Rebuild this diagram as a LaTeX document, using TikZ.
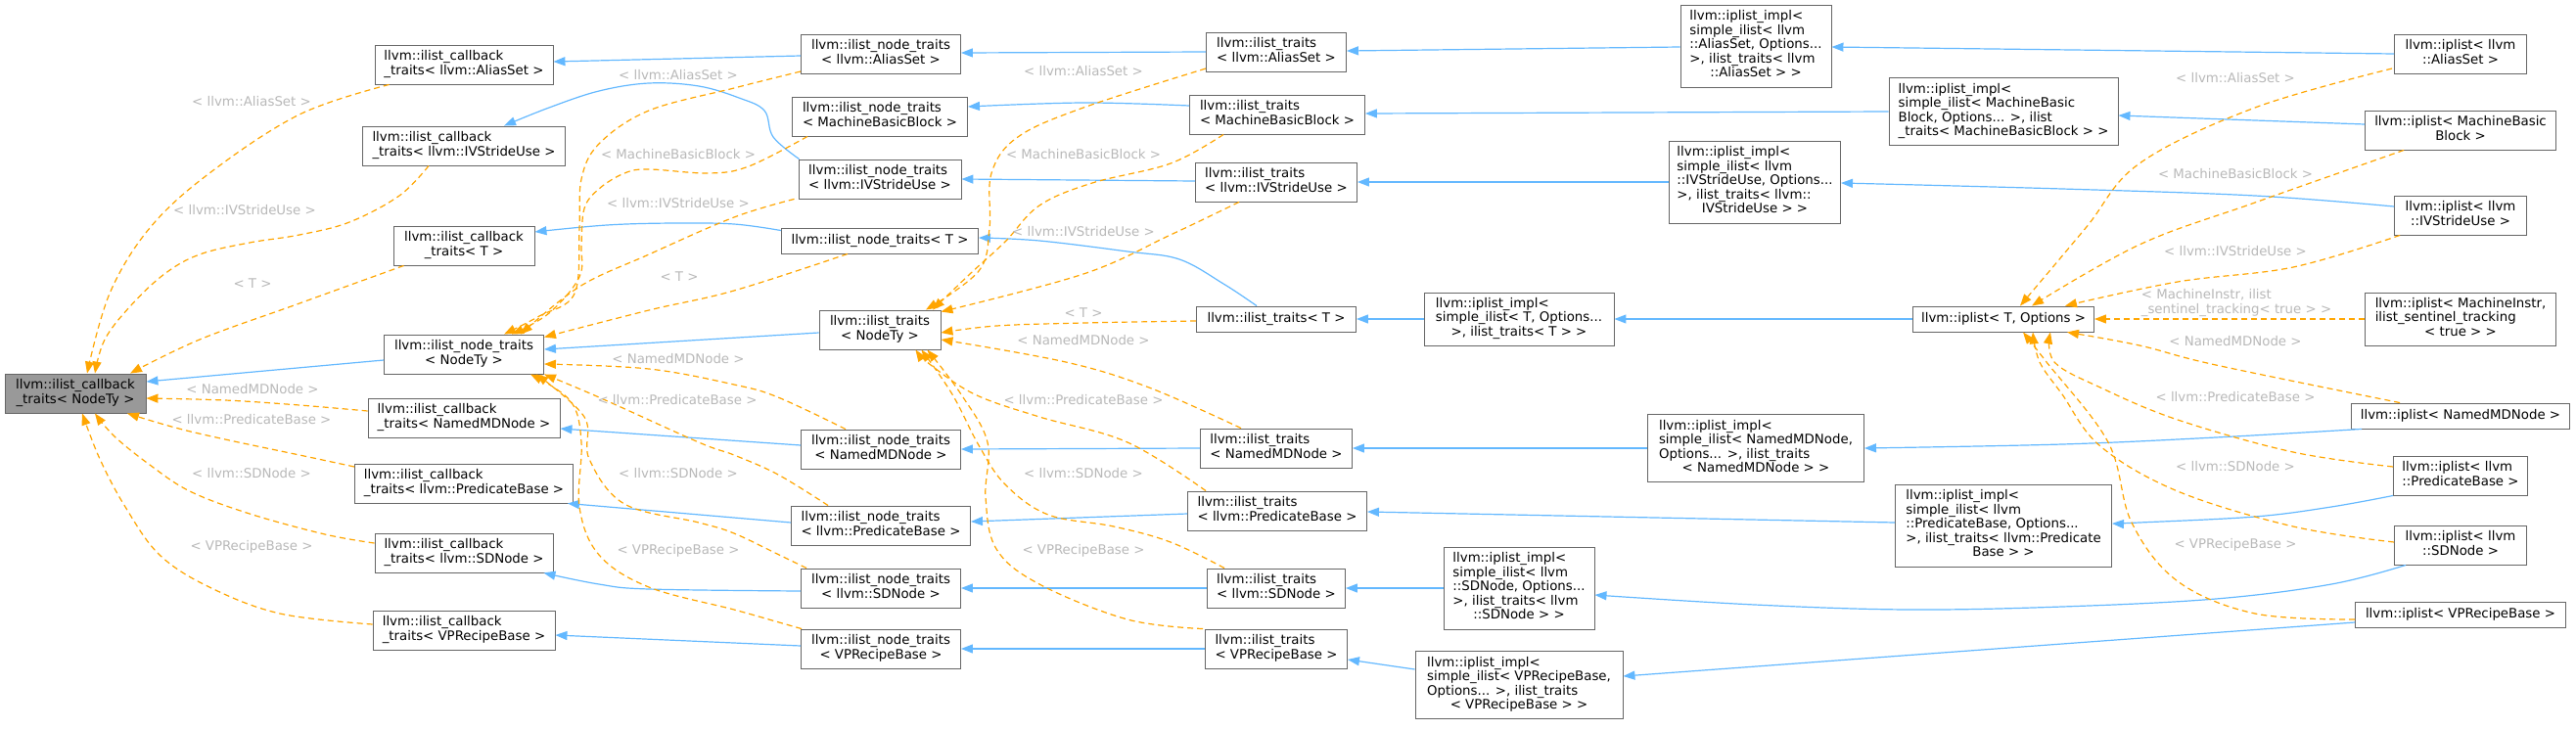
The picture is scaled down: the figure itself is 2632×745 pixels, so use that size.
\documentclass[tikz,border=0pt]{standalone}
\usepackage{fontspec}
\setmainfont{DejaVu Sans}
\usetikzlibrary{arrows.meta}
\definecolor{boxgray}{HTML}{666666}
\definecolor{grayfill}{HTML}{999999}
\definecolor{inhblue}{HTML}{63B8FF}
\definecolor{tplorange}{HTML}{FFA500}
\definecolor{lblgray}{HTML}{B8B8B8}
\newcommand\nodefont{\fontsize{13.33}{14.5}\selectfont}
\newcommand\dl[2]{\begin{tabular}{@{}l@{}}#1\\\multicolumn{1}{@{}c@{}}{#2}\end{tabular}}
\tikzset{
  box/.style={draw=boxgray, line width=0.9pt, fill=white, inner sep=0pt, font=\nodefont},
  lnA/.style={minimum height=26},
  lnB/.style={minimum height=40},
  lnC/.style={minimum height=54},
  lnD/.style={minimum height=69},
  lnE/.style={minimum height=84},
  inh/.style={draw=inhblue, line width=1.2pt, -{Triangle[length=12pt,width=9pt]}},
  tpl/.style={draw=tplorange, line width=1.2pt, dash pattern=on 6pt off 4pt, -{Triangle[length=12pt,width=9pt]}},
  lbl/.style={text=lblgray, font=\nodefont, inner sep=0pt},
}
\begin{document}
\begin{tikzpicture}[x=1pt,y=-1pt]
\useasboundingbox (0,0) rectangle (2632,745);
% ---------- nodes ----------
\node[box, fill=grayfill, lnB, minimum width=144] (nZero) at (77,402) {\dl{llvm::ilist\_callback}{\_traits< NodeTy >}};
\node[box, lnB, minimum width=182] (cAS) at (474,66) {\dl{llvm::ilist\_callback}{\_traits< llvm::AliasSet >}};
\node[box, lnB, minimum width=207] (cIV) at (474,149) {\dl{llvm::ilist\_callback}{\_traits< llvm::IVStrideUse >}};
\node[box, lnB, minimum width=144] (cT) at (474,251) {\dl{llvm::ilist\_callback}{\_traits< T >}};
\node[box, lnB, minimum width=163] (ntNodeTy) at (474,362) {\dl{llvm::ilist\_node\_traits}{< NodeTy >}};
\node[box, lnB, minimum width=196] (cMD) at (474,427) {\dl{llvm::ilist\_callback}{\_traits< NamedMDNode >}};
\node[box, lnB, minimum width=223] (cPB) at (474,494) {\dl{llvm::ilist\_callback}{\_traits< llvm::PredicateBase >}};
\node[box, lnB, minimum width=182] (cSD) at (474,565) {\dl{llvm::ilist\_callback}{\_traits< llvm::SDNode >}};
\node[box, lnB, minimum width=186] (cVP) at (474,644) {\dl{llvm::ilist\_callback}{\_traits< VPRecipeBase >}};

\node[box, lnB, minimum width=163] (ntAS) at (900,55) {\dl{llvm::ilist\_node\_traits}{< llvm::AliasSet >}};
\node[box, lnB, minimum width=179] (ntMBB) at (899,119) {\dl{llvm::ilist\_node\_traits}{< MachineBasicBlock >}};
\node[box, lnB, minimum width=166] (ntIV) at (899,183) {\dl{llvm::ilist\_node\_traits}{< llvm::IVStrideUse >}};
\node[box, lnA, minimum width=201] (ntT) at (899,246) {llvm::ilist\_node\_traits< T >};
\node[box, lnB, minimum width=124] (tNodeTy) at (899,337) {\dl{llvm::ilist\_traits}{< NodeTy >}};
\node[box, lnB, minimum width=163] (ntMD) at (900,459) {\dl{llvm::ilist\_node\_traits}{< NamedMDNode >}};
\node[box, lnB, minimum width=183] (ntPB) at (900,537) {\dl{llvm::ilist\_node\_traits}{< llvm::PredicateBase >}};
\node[box, lnB, minimum width=163] (ntSD) at (900,601) {\dl{llvm::ilist\_node\_traits}{< llvm::SDNode >}};
\node[box, lnB, minimum width=163] (ntVP) at (900,663) {\dl{llvm::ilist\_node\_traits}{< VPRecipeBase >}};

\node[box, lnB, minimum width=143] (tAS) at (1304,53) {\dl{llvm::ilist\_traits}{< llvm::AliasSet >}};
\node[box, lnB, minimum width=179] (tMBB) at (1305,117) {\dl{llvm::ilist\_traits}{< MachineBasicBlock >}};
\node[box, lnB, minimum width=165] (tIV) at (1304,186) {\dl{llvm::ilist\_traits}{< llvm::IVStrideUse >}};
\node[box, lnA, minimum width=163] (tT) at (1304,326) {llvm::ilist\_traits< T >};
\node[box, lnB, minimum width=155] (tMD) at (1304,458) {\dl{llvm::ilist\_traits}{< NamedMDNode >}};
\node[box, lnB, minimum width=183] (tPB) at (1305,522) {\dl{llvm::ilist\_traits}{< llvm::PredicateBase >}};
\node[box, lnB, minimum width=141] (tSD) at (1304,601) {\dl{llvm::ilist\_traits}{< llvm::SDNode >}};
\node[box, lnB, minimum width=145] (tVP) at (1304,663) {\dl{llvm::ilist\_traits}{< VPRecipeBase >}};

\node[box, lnE, minimum width=154] (iAS) at (1794,47) {\dl{llvm::iplist\_impl<\\simple\_ilist< llvm\\::AliasSet, Options...\\>, ilist\_traits< llvm}{::AliasSet > >}};
\node[box, lnD, minimum width=234] (iMBB) at (2047,114) {\dl{llvm::iplist\_impl<\\simple\_ilist< MachineBasic\\Block, Options... >, ilist}{\_traits< MachineBasicBlock > >}};
\node[box, lnE, minimum width=175] (iIV) at (1793,186) {\dl{llvm::iplist\_impl<\\simple\_ilist< llvm\\::IVStrideUse, Options...\\>, ilist\_traits< llvm::}{IVStrideUse > >}};
\node[box, lnC, minimum width=194] (iT) at (1552,326) {\dl{llvm::iplist\_impl<\\simple\_ilist< T, Options...}{>, ilist\_traits< T > >}};
\node[box, lnD, minimum width=221] (iMD) at (1794,458) {\dl{llvm::iplist\_impl<\\simple\_ilist< NamedMDNode,\\Options... >, ilist\_traits}{< NamedMDNode > >}};
\node[box, lnE, minimum width=221] (iPB) at (2047,537) {\dl{llvm::iplist\_impl<\\simple\_ilist< llvm\\::PredicateBase, Options...\\>, ilist\_traits< llvm::Predicate}{Base > >}};
\node[box, lnE, minimum width=154] (iSD) at (1552,601) {\dl{llvm::iplist\_impl<\\simple\_ilist< llvm\\::SDNode, Options...\\>, ilist\_traits< llvm}{::SDNode > >}};
\node[box, lnD, minimum width=212] (iVP) at (1552,700) {\dl{llvm::iplist\_impl<\\simple\_ilist< VPRecipeBase,\\Options... >, ilist\_traits}{< VPRecipeBase > >}};

\node[box, lnA, minimum width=185] (ipT) at (2047,326) {llvm::iplist< T, Options >};

\node[box, lnB, minimum width=135] (pAS) at (2514,55) {\dl{llvm::iplist< llvm}{::AliasSet >}};
\node[box, lnB, minimum width=195] (pMBB) at (2514,133) {\dl{llvm::iplist< MachineBasic}{Block >}};
\node[box, lnB, minimum width=135] (pIV) at (2514,220) {\dl{llvm::iplist< llvm}{::IVStrideUse >}};
\node[box, lnC, minimum width=195] (pMI) at (2514,326) {\dl{llvm::iplist< MachineInstr,\\ilist\_sentinel\_tracking}{< true > >}};
\node[box, lnA, minimum width=223] (pMD) at (2514,425) {llvm::iplist< NamedMDNode >};
\node[box, lnB, minimum width=137] (pPB) at (2514,486) {\dl{llvm::iplist< llvm}{::PredicateBase >}};
\node[box, lnB, minimum width=135] (pSD) at (2514,557) {\dl{llvm::iplist< llvm}{::SDNode >}};
\node[box, lnA, minimum width=215] (pVP) at (2514,628) {llvm::iplist< VPRecipeBase >};

% ---------- inheritance (blue) ----------
\draw[inh] ([yshift=-6]ntNodeTy.west) -- ([yshift=12]nZero.east);
\draw[inh] ([yshift=-2]ntAS.west) -- ([yshift=3]cAS.east);
\draw[inh] plot[smooth, tension=0.6] coordinates {([xshift=1]ntIV.north west) (790,140) (781,113) (755,100) (714,88) (663,85) (612,93) (561,110) ([xshift=41]cIV.north)};
\draw[inh] plot[smooth, tension=0.6] coordinates {([yshift=-3]ntT.north west) (750,229) (689,228) (620,230) ([yshift=14]cT.east)};
\draw[inh] (tAS.west) -- ([yshift=1]ntAS.east);
\draw[inh] plot[smooth, tension=0.6] coordinates {([yshift=9]tMBB.west) (1107,105) ([yshift=10]ntMBB.east)};
\draw[inh] ([yshift=1]tIV.west) -- (ntIV.east);
\draw[inh] plot[smooth, tension=0.6] coordinates {([xshift=-20]tT.north) (1250,290) (1205,265) (1152,257) (1062,246) ([yshift=3]ntT.east)};
\draw[inh] ([yshift=-3]tNodeTy.west) -- ([yshift=5]ntNodeTy.east);
\draw[inh] ([yshift=4]ntMD.west) -- ([yshift=-11]cMD.east);
\draw[inh] ([yshift=3]ntPB.west) -- ([xshift=-6]cPB.south east);
\draw[inh] plot[smooth, tension=0.6] coordinates {([yshift=-3]ntSD.west) (663,602) (612,597) ([xshift=-10]cSD.south east)};
\draw[inh] ([yshift=3]ntVP.west) -- ([yshift=-5]cVP.east);
\draw[inh] (tMD.west) -- (ntMD.east);
\draw[inh] ([yshift=-3]tPB.west) -- ([yshift=4]ntPB.east);
\draw[inh] (tSD.west) -- (ntSD.east);
\draw[inh] (tVP.west) -- (ntVP.east);
\draw[inh] ([yshift=-1]iAS.west) -- ([yshift=1]tAS.east);
\draw[inh] (iMBB.west) -- ([yshift=1]tMBB.east);
\draw[inh] (iIV.west) -- (tIV.east);
\draw[inh] (iT.west) -- (tT.east);
\draw[inh] (ipT.west) -- (iT.east);
\draw[inh] (pAS.west) -- ([yshift=-1]iAS.east);
\draw[inh] ([yshift=6]pMBB.west) -- ([yshift=-4]iMBB.east);
\draw[inh] plot[smooth, tension=0.6] coordinates {([yshift=9]pIV.west) (2304,200) (2107,193) ([yshift=-1]iIV.east)};
\draw[inh] plot[smooth, tension=0.6] coordinates {([xshift=11]pMD.south west) (2264,447) (2107,454) (iMD.east)};
\draw[inh] plot[smooth, tension=0.6] coordinates {(pPB.south west) (2382,518) (2304,528) (2186,534) ([yshift=2]iPB.east)};
\draw[inh] plot[smooth, tension=0.6] coordinates {([xshift=12]pSD.south west) (2382,597) (2264,612) (2107,620) (1950,623) (1793,618) ([yshift=-7]iSD.east)};
\draw[inh] ([yshift=-8]pVP.west) -- ([yshift=9]iVP.east);
\draw[inh] ([yshift=16]iVP.west) -- ([yshift=-11]tVP.east);
\draw[inh] (iSD.west) -- (tSD.east);
\draw[inh] ([yshift=3]iPB.west) -- ([yshift=-1]tPB.east);
\draw[inh] (iMD.west) -- (tMD.east);

% ---------- template instances (orange) to nZero ----------
\draw[tpl] plot[smooth, tension=0.6] coordinates {([xshift=15]cAS.south west) (306,117) (214,177) (153,233) (112,300) ([xshift=12]nZero.north)};
\draw[tpl] plot[smooth, tension=0.6] coordinates {([xshift=-36]cIV.south) (408,200) (357,227) (306,240) (255,248) (204,260) (168,280) (133,313) (107,347) ([xshift=20]nZero.north)};
\draw[tpl] plot[smooth, tension=0.6] coordinates {([xshift=11]cT.south west) (306,310) (204,347) ([xshift=56]nZero.north)};
\draw[tpl] plot[smooth, tension=0.6] coordinates {([yshift=7]cMD.west) (306,414) (230,409) ([yshift=-5]nZero.east)};
\draw[tpl] plot[smooth, tension=0.6] coordinates {([yshift=17]cPB.west) (306,465) (230,449) (179,437) ([xshift=53]nZero.south)};
\draw[tpl] plot[smooth, tension=0.6] coordinates {([yshift=10]cSD.west) (332,546) (255,525) (194,502) (153,475) (117,446) ([xshift=20]nZero.south)};
\draw[tpl] plot[smooth, tension=0.6] coordinates {([yshift=6]cVP.west) (286,627) (214,600) (163,567) (128,518) (102,469) ([xshift=7]nZero.south)};
\node[lbl] (lA1) at (257,104) {< llvm::AliasSet >};
\node[lbl] (lA2) at (250,215) {< llvm::IVStrideUse >};
\node[lbl] (lA3) at (258,290) {< T >};
\node[lbl] (lA4) at (258,398) {< NamedMDNode >};
\node[lbl] (lA5) at (257,429) {< llvm::PredicateBase >};
\node[lbl] (lA6) at (257,484) {< llvm::SDNode >};
\node[lbl] (lA7) at (257,559) {< VPRecipeBase >};

% ---------- to ntNodeTy ----------
\draw[tpl] plot[smooth, tension=0.6] coordinates {([yshift=-18]ntAS.west) (750,90) (663,113) (612,147) (594,183) (592,233) (587,300) (551,323) ([xshift=41]ntNodeTy.north)};
\draw[tpl] plot[smooth, tension=0.6] coordinates {([xshift=16]ntMBB.south west) (765,170) (724,177) (663,173) (638,177) (612,193) (597,213) (594,250) (592,283) (561,320) ([xshift=49]ntNodeTy.north)};
\draw[tpl] plot[smooth, tension=0.6] coordinates {([xshift=-4]ntIV.south west) (750,222) (663,260) (592,293) ([xshift=58]ntNodeTy.north)};
\draw[tpl] plot[smooth, tension=0.6] coordinates {([xshift=-33]ntT.south) (750,297) (663,317) ([yshift=-3]ntNodeTy.north east)};
\draw[tpl] plot[smooth, tension=0.6] coordinates {([xshift=-36]ntMD.north) (795,406) (750,393) (663,377) ([yshift=-10]ntNodeTy.east)};
\draw[tpl] plot[smooth, tension=0.6] coordinates {([xshift=38]ntPB.north west) (795,485) (750,465) (714,452) (612,406) (ntNodeTy.south east)};
\draw[tpl] plot[smooth, tension=0.6] coordinates {([xshift=6]ntSD.north west) (796,567) (750,545) (714,534) (638,515) (602,469) (597,426) ([xshift=-8]ntNodeTy.south east)};
\draw[tpl] plot[smooth, tension=0.6] coordinates {([xshift=1]ntVP.north west) (796,636) (750,623) (663,600) (612,567) (592,518) (594,452) (583,410) ([xshift=-14]ntNodeTy.south east)};
\node[lbl] (lB1) at (693,77) {< llvm::AliasSet >};
\node[lbl] (lB2) at (693,158) {< MachineBasicBlock >};
\node[lbl] (lB3) at (693,208) {< llvm::IVStrideUse >};
\node[lbl] (lB4) at (694,283) {< T >};
\node[lbl] (lB5) at (693,367) {< NamedMDNode >};
\node[lbl] (lB6) at (692,409) {< llvm::PredicateBase >};
\node[lbl] (lB7) at (693,484) {< llvm::SDNode >};
\node[lbl] (lB8) at (693,563) {< VPRecipeBase >};

% ---------- to tNodeTy ----------
\draw[tpl] plot[smooth, tension=0.6] coordinates {([yshift=-17]tAS.west) (1107,110) (1040,140) (1013,177) (1011,233) (1000,277) ([xshift=47]tNodeTy.north)};
\draw[tpl] plot[smooth, tension=0.6] coordinates {([xshift=35]tMBB.south west) (1196,167) (1116,187) (1062,210) (1027,247) (991,280) ([xshift=54]tNodeTy.north)};
\draw[tpl] plot[smooth, tension=0.6] coordinates {([xshift=-38]tIV.south) (1196,240) (1107,280) ([yshift=-2]tNodeTy.north east)};
\draw[tpl] plot[smooth, tension=0.6] coordinates {([yshift=-2]tT.west) (1107,330) (1018,333) ([yshift=-3]tNodeTy.east)};
\draw[tpl] plot[smooth, tension=0.6] coordinates {([xshift=-36]tMD.north) (1174,396) (1089,370) ([yshift=-10]tNodeTy.east)};
\draw[tpl] plot[smooth, tension=0.6] coordinates {([xshift=19]tPB.north west) (1152,452) (1062,426) (996,403) (951,373) ([xshift=-26]tNodeTy.south east)};
\draw[tpl] plot[smooth, tension=0.6] coordinates {([xshift=18]tSD.north west) (1196,554) (1138,538) (1071,526) (1027,495) (1000,455) (973,403) ([xshift=-20]tNodeTy.south east)};
\draw[tpl] plot[smooth, tension=0.6] coordinates {([xshift=-2]tVP.north west) (1152,633) (1062,597) (1018,561) (1007,508) (1009,452) (982,403) ([xshift=-14]tNodeTy.south east)};
\node[lbl] (lC1) at (1107,73) {< llvm::AliasSet >};
\node[lbl] (lC2) at (1107,158) {< MachineBasicBlock >};
\node[lbl] (lC3) at (1107,237) {< llvm::IVStrideUse >};
\node[lbl] (lC4) at (1107,320) {< T >};
\node[lbl] (lC5) at (1107,348) {< NamedMDNode >};
\node[lbl] (lC6) at (1107,409) {< llvm::PredicateBase >};
\node[lbl] (lC7) at (1107,484) {< llvm::SDNode >};
\node[lbl] (lC8) at (1107,563) {< VPRecipeBase >};

% ---------- to ipT ----------
\draw[tpl] plot[smooth, tension=0.6] coordinates {([xshift=-2,yshift=-15]pAS.west) (2304,110) (2186,167) (2131,233) ([xshift=17]ipT.north)};
\draw[tpl] plot[smooth, tension=0.6] coordinates {([xshift=40]pMBB.south west) (2304,207) (2186,250) ([xshift=29]ipT.north)};
\draw[tpl] plot[smooth, tension=0.6] coordinates {([xshift=6]pIV.south west) (2343,273) (2225,288) ([xshift=-30]ipT.north east)};
\draw[tpl] (pMI.west) -- (ipT.east);
\draw[tpl] plot[smooth, tension=0.6] coordinates {([xshift=50]pMD.north west) (2264,373) (2186,353) ([xshift=-28]ipT.south east)};
\draw[tpl] plot[smooth, tension=0.6] coordinates {([yshift=9]pPB.west) (2343,462) (2225,429) (2146,396) (2099,370) ([xshift=-45]ipT.south east)};
\draw[tpl] plot[smooth, tension=0.6] coordinates {([yshift=3]pSD.west) (2343,538) (2225,502) (2146,456) (2107,403) (2084,370) ([xshift=30]ipT.south)};
\draw[tpl] plot[smooth, tension=0.6] coordinates {([yshift=-5]pVP.west) (2304,627) (2225,594) (2178,534) (2154,452) (2091,370) ([xshift=20]ipT.south)};
\node[lbl] (lD1) at (2284,80) {< llvm::AliasSet >};
\node[lbl] (lD2) at (2284,178) {< MachineBasicBlock >};
\node[lbl] (lD3) at (2284,257) {< llvm::IVStrideUse >};
\node[lbl] (lD4) at (2285,310) {\dl{< MachineInstr, ilist}{\_sentinel\_tracking< true > >}};
\node[lbl] (lD5) at (2284,349) {< NamedMDNode >};
\node[lbl] (lD6) at (2284,406) {< llvm::PredicateBase >};
\node[lbl] (lD7) at (2284,477) {< llvm::SDNode >};
\node[lbl] (lD8) at (2284,557) {< VPRecipeBase >};
\end{tikzpicture}
\end{document}
